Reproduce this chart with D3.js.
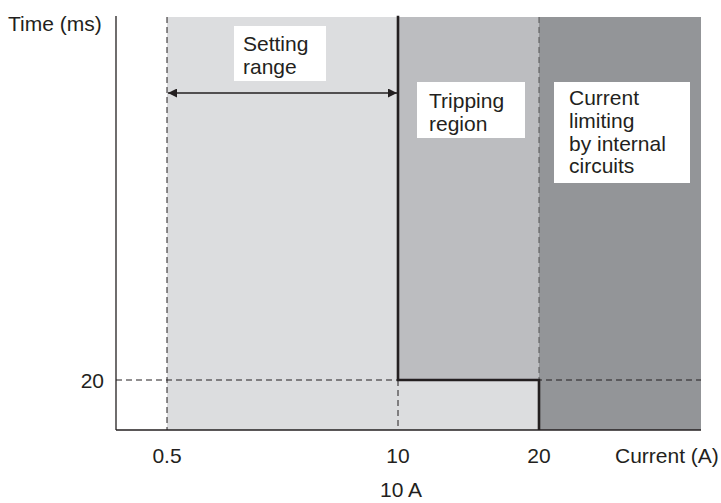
<!DOCTYPE html>
<html><head><meta charset="utf-8">
<script src="https://cdn.jsdelivr.net/npm/d3@7/dist/d3.min.js"></script>
<style>body{margin:0;background:#fff}svg{display:block}text{font-family:"Liberation Sans",Arial,sans-serif;fill:#231f20}</style>
</head><body><svg id="c" width="721" height="503"></svg>
<script>
// Data
const currentTicks = [0.5, 10, 20];          // A
const timeTicks = [20];                       // ms
const settingRange = [0.5, 10];               // A
const trippingCurrent = 10;                   // A
const limitCurrent = 20;                      // A
const tripTime = 20;                          // ms
const currentMax = 25, timeMax = 100;
const labels = {
  setting: ["Setting", "range"],
  tripping: ["Tripping", "region"],
  limiting: ["Current", "limiting", "by internal", "circuits"]
};

const FS = 21;
const svg = d3.select("#c");
const x = d3.scaleLinear().domain([0, 0.5, 10, 20, currentMax]).range([116, 167, 398, 539, 701]);
const y = d3.scaleLinear().domain([0, 20, timeMax]).range([430, 380, 17]);

const cLight = "#dcdddf", cMid = "#bcbdc0", cDark = "#939598", ink = "#231f20";

// regions
svg.append("rect").attr("x", x(settingRange[0])).attr("y", y(timeMax))
  .attr("width", x(limitCurrent) - x(settingRange[0])).attr("height", y(0) - y(timeMax)).attr("fill", cLight);
svg.append("rect").attr("x", x(trippingCurrent)).attr("y", y(timeMax))
  .attr("width", x(limitCurrent) - x(trippingCurrent)).attr("height", y(tripTime) - y(timeMax)).attr("fill", cMid);
svg.append("rect").attr("x", x(limitCurrent)).attr("y", y(timeMax))
  .attr("width", x(currentMax) - x(limitCurrent)).attr("height", y(0) - y(timeMax)).attr("fill", cDark);

// dashed guides
const dash = (x1, y1, x2, y2, col) => svg.append("line").attr("x1", x1).attr("y1", y1).attr("x2", x2).attr("y2", y2)
  .attr("stroke", col || ink).attr("stroke-width", 1).attr("stroke-dasharray", "6,4");
dash(x(0), y(tripTime), x(currentMax), y(tripTime));
dash(x(0.5), y(timeMax), x(0.5), y(0));
dash(x(trippingCurrent), y(tripTime), x(trippingCurrent), y(0));
dash(x(limitCurrent), y(timeMax), x(limitCurrent), y(tripTime), "#555");

// tripping curve
const curve = [[trippingCurrent, timeMax + 0.3], [trippingCurrent, tripTime], [limitCurrent, tripTime], [limitCurrent, 0]];
svg.append("path").attr("d", d3.line().x(d => x(d[0])).y(d => y(d[1]))(curve))
  .attr("fill", "none").attr("stroke", ink).attr("stroke-width", 2.6);

// axes
svg.append("line").attr("x1", x(0)).attr("x2", x(0)).attr("y1", 16).attr("y2", y(0)).attr("stroke", ink).attr("stroke-width", 1.3);
svg.append("line").attr("x1", x(0)).attr("x2", x(currentMax)).attr("y1", y(0)).attr("y2", y(0)).attr("stroke", ink).attr("stroke-width", 1.3);

// tick labels
svg.selectAll(".xt").data(currentTicks).join("text").attr("x", d => x(d)).attr("y", 463)
  .attr("text-anchor", "middle").attr("font-size", FS).text(d => d);
svg.selectAll(".yt").data(timeTicks).join("text").attr("x", 104).attr("y", d => y(d) + 7.5)
  .attr("text-anchor", "end").attr("font-size", FS).text(d => d);
svg.append("text").attr("x", 615).attr("y", 463).attr("font-size", FS).text("Current (A)");
svg.append("text").attr("x", 8).attr("y", 31).attr("font-size", FS).text("Time (ms)");
svg.append("text").attr("x", x(trippingCurrent) + 3).attr("y", 497).attr("text-anchor", "middle").attr("font-size", FS).text(trippingCurrent + " A");

// arrow
const defs = svg.append("defs");
defs.append("marker").attr("id", "ah").attr("viewBox", "0 0 10 10").attr("refX", 10).attr("refY", 5)
  .attr("markerWidth", 12).attr("markerHeight", 9).attr("markerUnits", "userSpaceOnUse").attr("orient", "auto-start-reverse")
  .append("path").attr("d", "M0,0L10,5L0,10Z").attr("fill", ink);
svg.append("line").attr("x1", x(settingRange[0]) + 1).attr("x2", x(settingRange[1]) - 1).attr("y1", 93).attr("y2", 93)
  .attr("stroke", ink).attr("stroke-width", 1.3).attr("marker-start", "url(#ah)").attr("marker-end", "url(#ah)");

// label boxes
function box(bx, by, bw, bh, tx, lines, base, lh) {
  svg.append("rect").attr("x", bx).attr("y", by).attr("width", bw).attr("height", bh).attr("fill", "#fff");
  const t = svg.append("text").attr("font-size", FS);
  lines.forEach((s, i) => t.append("tspan").attr("x", tx).attr("y", base + i * lh).text(s));
}
box(234, 26, 92, 55, 243, labels.setting, 51, 23);
box(417, 82, 108, 56, 429, labels.tripping, 108, 22.5);
box(554, 82, 136, 101, 569, labels.limiting, 105, 22.8);
</script></body></html>
